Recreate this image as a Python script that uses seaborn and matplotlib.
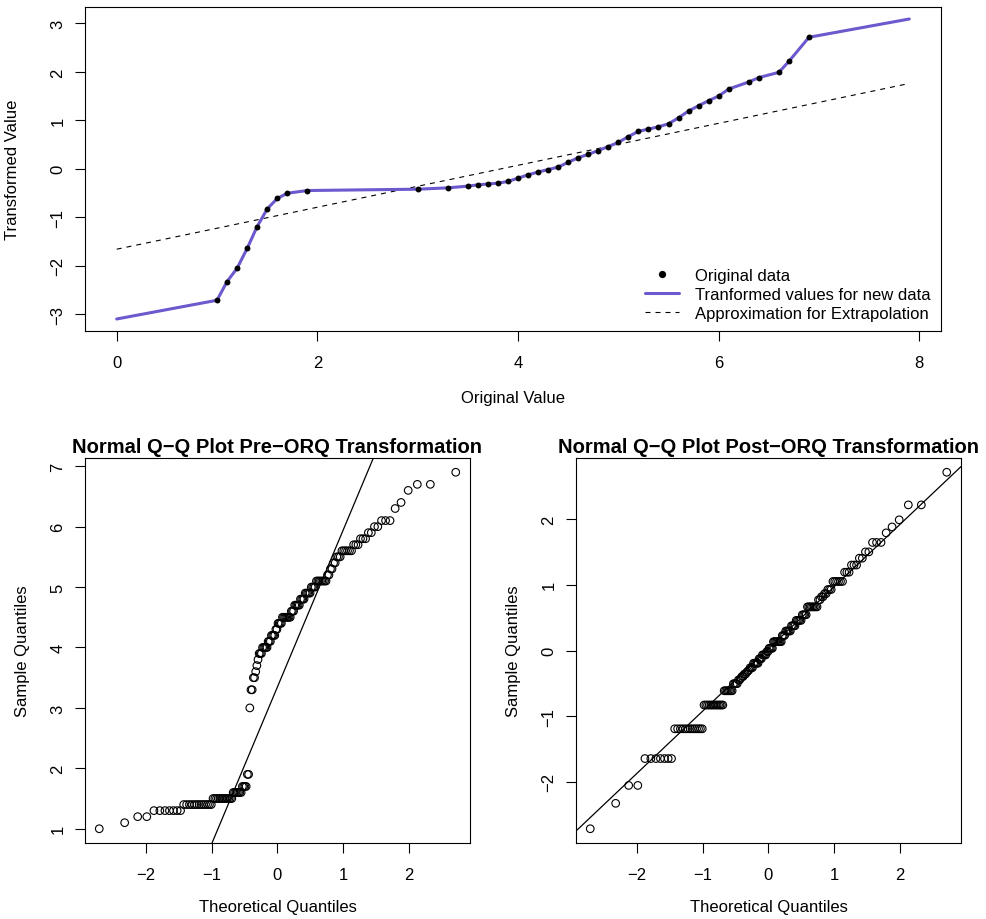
import numpy as np
import pandas as pd
import matplotlib
matplotlib.use('Agg')
import matplotlib.pyplot as plt
from matplotlib.lines import Line2D
import seaborn as sns
from statistics import NormalDist

# iris petal lengths, by species
setosa = [1.4, 1.4, 1.3, 1.5, 1.4, 1.7, 1.4, 1.5, 1.4, 1.5, 1.5, 1.6, 1.4, 1.1, 1.2, 1.5, 1.3,
          1.4, 1.7, 1.5, 1.7, 1.5, 1.0, 1.7, 1.9, 1.6, 1.6, 1.5, 1.4, 1.6, 1.6, 1.5, 1.5, 1.4,
          1.5, 1.2, 1.3, 1.4, 1.3, 1.5, 1.3, 1.3, 1.3, 1.6, 1.9, 1.4, 1.6, 1.4, 1.5, 1.4]
versicolor = [4.7, 4.5, 4.9, 4.0, 4.6, 4.5, 4.7, 3.3, 4.6, 3.9, 3.5, 4.2, 4.0, 4.7, 3.6, 4.4, 4.5,
              4.1, 4.5, 3.9, 4.8, 4.0, 4.9, 4.7, 4.3, 4.4, 4.8, 5.0, 4.5, 3.5, 3.8, 3.7, 3.9, 5.1,
              4.5, 4.5, 4.7, 4.4, 4.1, 4.0, 4.4, 4.6, 4.0, 3.3, 4.2, 4.2, 4.2, 4.3, 3.0, 4.1]
virginica = [6.0, 5.1, 5.9, 5.6, 5.8, 6.6, 4.5, 6.3, 5.8, 6.1, 5.1, 5.3, 5.5, 5.0, 5.1, 5.3, 5.5,
             6.7, 6.9, 5.0, 5.7, 4.9, 6.7, 4.9, 5.7, 6.0, 4.8, 4.9, 5.6, 5.8, 6.1, 6.4, 5.6, 5.1,
             5.6, 6.1, 5.6, 5.5, 4.8, 5.4, 5.6, 5.1, 5.1, 5.9, 5.7, 5.2, 5.0, 5.2, 5.4, 5.1]

# extrapolated ends of the transform curve
curve_ends_x = [0.0, 7.9]
curve_ends_y = [-3.10, 3.09]
# linear approximation used for extrapolation
approx_x = [0.0, 7.9]
approx_y = [-1.66, 1.76]

PURPLE = '#6A5ACD'
FS = 12

sns.set_theme(style='ticks', rc={'axes.linewidth': 0.8, 'axes.edgecolor': 'black',
                                 'text.color': 'black', 'axes.labelcolor': 'black',
                                 'xtick.color': 'black', 'ytick.color': 'black',
                                 'xtick.major.size': 7, 'ytick.major.size': 7,
                                 'xtick.major.width': 0.8, 'ytick.major.width': 0.8,
                                 'xtick.major.pad': 10, 'ytick.major.pad': 7})
plt.rcParams['font.family'] = ['Liberation Sans', 'DejaVu Sans']

nd = NormalDist()
petal = np.array(setosa + versicolor + virginica)
n = len(petal)
ranks = pd.Series(petal).rank(method='average').to_numpy()
orq = np.array([nd.inv_cdf(p) for p in (ranks - 0.5) / n])

pts = pd.DataFrame({'x': petal, 'y': orq}).drop_duplicates().sort_values('x')
curve = pd.DataFrame({'x': [curve_ends_x[0]] + list(pts['x']) + [curve_ends_x[1]],
                      'y': [curve_ends_y[0]] + list(pts['y']) + [curve_ends_y[1]]})
theo = np.array([nd.inv_cdf((i - 0.5) / n) for i in range(1, n + 1)])


def rlim(lo, hi):
    d = (hi - lo) * 0.04
    return lo - d, hi + d


def style_ax(ax):
    for s in ax.spines.values():
        s.set_visible(True)
    ax.tick_params(labelsize=FS)
    for lab in ax.get_yticklabels():
        lab.set_rotation(90)
        lab.set_va('center')


W, H = 987, 920
fig = plt.figure(figsize=(W / 100, H / 100), dpi=100)


def px_axes(l, t, r, b):
    return fig.add_axes([l / W, 1 - b / H, (r - l) / W, (b - t) / H])


# --- top: transformation plot
ax = px_axes(85, 8, 941, 332)
sns.lineplot(data=curve, x='x', y='y', sort=False, estimator=None, color=PURPLE, lw=2.2,
             ax=ax, zorder=2)
sns.lineplot(x=approx_x, y=approx_y, color='black', lw=0.8, ax=ax, zorder=1)
ax.lines[-1].set_dashes([4.5, 4.5])
sns.scatterplot(data=pts, x='x', y='y', color='black', s=18, edgecolor='black', lw=0,
                ax=ax, zorder=3)
ax.set_xlim(*rlim(0, 7.9))
ax.set_ylim(*rlim(-3.10, 3.09))
ax.set_xticks([0, 2, 4, 6, 8])
ax.set_yticks([-3, -2, -1, 0, 1, 2, 3])
ax.set_xlabel('Original Value', fontsize=FS, va='center')
ax.set_ylabel('Transformed Value', fontsize=FS, va='center')
ax.xaxis.set_label_coords(0.5, -67 / 324)
ax.yaxis.set_label_coords(-72 / 856, 0.5)
style_ax(ax)
handles = [Line2D([], [], ls='none', marker='o', ms=4.2, color='black'),
           Line2D([], [], color=PURPLE, lw=2.2),
           Line2D([], [], color='black', lw=0.8, dashes=[4.5, 4.5])]
labels = ['Original data', 'Tranformed values for new data', 'Approximation for Extrapolation']
ax.legend(handles, labels, loc='lower right', frameon=False, fontsize=FS, handlelength=2.0,
          handletextpad=1.0, labelspacing=0.25, borderaxespad=0.2)

# --- bottom: QQ plots
for (l, r), sample, title, yt in [((85, 470), petal, 'Normal Q\u2212Q Plot Pre\u2212ORQ Transformation',
                                    [1, 2, 3, 4, 5, 6, 7]),
                                   ((576, 961), orq, 'Normal Q\u2212Q Plot Post\u2212ORQ Transformation',
                                    [-2, -1, 0, 1, 2])]:
    ax = px_axes(l, 459, r, 844)
    ys = np.sort(sample)
    sns.scatterplot(x=theo, y=ys, marker='o', s=30, facecolors='none', edgecolor='black',
                    linewidth=0.8, ax=ax)
    q1, q3 = np.quantile(ys, [0.25, 0.75])
    z1, z3 = nd.inv_cdf(0.25), nd.inv_cdf(0.75)
    slope = (q3 - q1) / (z3 - z1)
    ax.axline((z1, q1), slope=slope, color='black', lw=0.9)
    ax.set_xlim(*rlim(theo.min(), theo.max()))
    ax.set_ylim(*rlim(ys.min(), ys.max()))
    ax.set_xticks([-2, -1, 0, 1, 2])
    ax.set_yticks(yt)
    ax.set_title(title, fontsize=14.5, fontweight='bold', pad=4)
    ax.set_xlabel('Theoretical Quantiles', fontsize=FS, va='center')
    ax.set_ylabel('Sample Quantiles', fontsize=FS, va='center')
    ax.xaxis.set_label_coords(0.5, -64 / 385)
    ax.yaxis.set_label_coords(-62 / 385, 0.5)
    style_ax(ax)

fig.savefig('out.png', dpi=100)
